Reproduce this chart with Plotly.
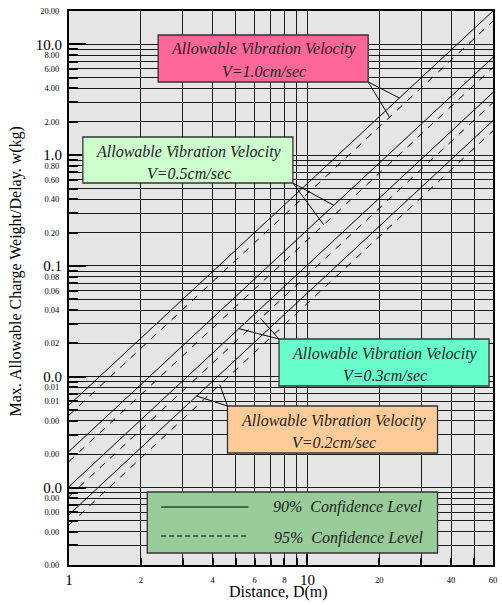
import math
import plotly.graph_objects as go

SERIF = "Liberation Serif"

# ---------------------------------------------------------------- data
# Straight lines on log-log paper: charge weight read at D = 1 m and D = 60 m
DIST_ENDS = [1, 60]
VELOCITIES = ["1.0", "0.5", "0.3", "0.2"]
W90_AT_1M = [0.00556, 0.00212, 0.00102, 0.00057]
W90_AT_60M = [20.0, 7.63, 3.68, 2.05]
W95_AT_1M = [0.0045, 0.00172, 0.00083, 0.00046]
W95_AT_60M = [16.2, 6.18, 2.98, 1.66]

# distances on each line where the callout leaders touch (90 %, 95 %)
LEADER_D90 = [24.3, 12.9, 5.16, 3.43]
LEADER_D95 = [22.1, 11.7, 6.36, 4.29]

# axis ticks
X_TICKS = [2, 4, 6, 8, 20, 40, 60]
X_LABELS = ["2", "4", "6", "8", "20", "40", "60"]
X_DECADES = [1, 10]
X_DECADE_LABELS = ["1", "10"]
X_GRID = [1, 3, 5, 7, 9, 10, 30, 50]

Y_TICKS = [20, 8, 6, 4, 2, 0.8, 0.6, 0.4, 0.2, 0.08, 0.06, 0.04, 0.02,
           0.008, 0.006, 0.004, 0.002, 0.0008, 0.0006, 0.0004, 0.0002]
Y_LABELS = ["20.00", "8.00", "6.00", "4.00", "2.00", "0.80", "0.60", "0.40",
            "0.20", "0.08", "0.06", "0.04", "0.02", "0.01", "0.01", "0.00",
            "0.00", "0.00", "0.00", "0.00", "0.00"]
Y_DECADES = [10, 1, 0.1, 0.01, 0.001]
Y_DECADE_LABELS = ["10.0", "1.0", "0.1", "0.0", "0.0"]
Y_GRID = [m * 10.0 ** k for k in range(-4, 2) for m in (1, 3, 5, 7, 9)]

X_RANGE = [0.0, math.log10(60)]
Y_RANGE = [math.log10(0.0002), math.log10(20)]

# ---------------------------------------------------------------- layout geometry
PLOT_L, PLOT_T, PLOT_W, PLOT_H = 69, 11, 428, 554


def px_x(px):
    return (px - PLOT_L) / PLOT_W


def px_y(py):
    return (PLOT_T + PLOT_H - py) / PLOT_H


def data_x(d):
    return (math.log10(d) - X_RANGE[0]) / (X_RANGE[1] - X_RANGE[0])


def data_y(w):
    return (math.log10(w) - Y_RANGE[0]) / (Y_RANGE[1] - Y_RANGE[0])


def w_on_line(d, w_a, w_b):
    la, lb = math.log10(w_a), math.log10(w_b)
    t = (math.log10(d) - math.log10(DIST_ENDS[0])) / (
        math.log10(DIST_ENDS[1]) - math.log10(DIST_ENDS[0]))
    return 10 ** (la + (lb - la) * t)


# callout boxes: left, top, right, bottom (px), fill, leader corner
BOXES = [
    (159, 35, 371, 82, "#ff6699", "br"),
    (83, 137, 295, 183, "#ccffcc", "br"),
    (281, 339, 493, 386, "#66ffcc", "tl"),
    (229, 406, 441, 453, "#ffcc99", "tl"),
]

fig = go.Figure()

for i, v in enumerate(VELOCITIES):
    fig.add_trace(go.Scatter(
        x=DIST_ENDS, y=[W90_AT_1M[i], W90_AT_60M[i]], mode="lines",
        line=dict(color="black", width=1), name=f"V={v} (90%)",
        hoverinfo="skip", cliponaxis=True))
    fig.add_trace(go.Scatter(
        x=DIST_ENDS, y=[W95_AT_1M[i], W95_AT_60M[i]], mode="lines",
        line=dict(color="black", width=1, dash="7px,7px"),
        name=f"V={v} (95%)", xaxis="x2", yaxis="y2",
        hoverinfo="skip", cliponaxis=True))

shapes = []
annotations = []
box_font = dict(family=SERIF, size=16, color="#222222")

for i, (l, t, r, b, fill, corner) in enumerate(BOXES):
    cx0 = px_x(l) if corner == "tl" else px_x(r)
    cy0 = px_y(t) if corner == "tl" else px_y(b)
    for d, wa, wb in ((LEADER_D90[i], W90_AT_1M[i], W90_AT_60M[i]),
                      (LEADER_D95[i], W95_AT_1M[i], W95_AT_60M[i])):
        shapes.append(dict(
            type="line", xref="paper", yref="paper",
            x0=cx0, y0=cy0, x1=data_x(d), y1=data_y(w_on_line(d, wa, wb)),
            line=dict(color="black", width=1), layer="above"))
    shapes.append(dict(
        type="rect", xref="paper", yref="paper",
        x0=px_x(l), x1=px_x(r), y0=px_y(b), y1=px_y(t),
        fillcolor=fill, line=dict(color="#333333", width=1.3), layer="above"))
    cx = px_x((l + r) / 2 + 1)
    annotations.append(dict(
        xref="paper", yref="paper", x=cx, y=px_y(t + 14.5),
        text="<i>Allowable Vibration Velocity</i>", showarrow=False,
        font=box_font, xanchor="center", yanchor="middle"))
    annotations.append(dict(
        xref="paper", yref="paper", x=cx, y=px_y(t + 36.5),
        text=f"<i>V={VELOCITIES[i]}cm/sec</i>", showarrow=False,
        font=box_font, xanchor="center", yanchor="middle"))

# confidence-level key
shapes.append(dict(
    type="rect", xref="paper", yref="paper",
    x0=px_x(148), x1=px_x(441), y0=px_y(553), y1=px_y(492),
    fillcolor="#99cc99", line=dict(color="#333333", width=1.3), layer="above"))
shapes.append(dict(
    type="line", xref="paper", yref="paper",
    x0=px_x(162), x1=px_x(250), y0=px_y(507), y1=px_y(507),
    line=dict(color="black", width=1), layer="above"))
shapes.append(dict(
    type="line", xref="paper", yref="paper",
    x0=px_x(162), x1=px_x(250), y0=px_y(536), y1=px_y(536),
    line=dict(color="black", width=1, dash="5px,3px"), layer="above"))
annotations.append(dict(
    xref="paper", yref="paper", x=px_x(350), y=px_y(507),
    text="<i>90%&nbsp; Confidence Level</i>", showarrow=False,
    font=box_font, xanchor="center", yanchor="middle"))
annotations.append(dict(
    xref="paper", yref="paper", x=px_x(351), y=px_y(538),
    text="<i>95%&nbsp; Confidence Level</i>", showarrow=False,
    font=box_font, xanchor="center", yanchor="middle"))

# axis titles
annotations.append(dict(
    xref="paper", yref="paper", x=px_x(280), y=px_y(592),
    text="Distance, D(m)", showarrow=False,
    font=dict(family=SERIF, size=16, color="black"),
    xanchor="center", yanchor="middle"))
annotations.append(dict(
    xref="paper", yref="paper", x=px_x(15), y=px_y(272),
    text="Max. Allowable Charge Weight/Delay. w(kg)", showarrow=False,
    textangle=-90, font=dict(family=SERIF, size=16, color="black"),
    xanchor="center", yanchor="middle"))

GRID = "#1a1a1a"
small_font = dict(family=SERIF, size=8.5, color="black")
big_font = dict(family=SERIF, size=15, color="black")

fig.update_layout(
    width=502, height=605,
    margin=dict(l=PLOT_L, r=502 - PLOT_L - PLOT_W, t=PLOT_T,
                b=605 - PLOT_T - PLOT_H),
    paper_bgcolor="white", plot_bgcolor="#e5e5e5",
    showlegend=False,
    xaxis=dict(
        type="log", range=X_RANGE, tickmode="array",
        tickvals=X_TICKS, ticktext=X_LABELS, tickfont=small_font,
        ticks="inside", ticklen=7, tickwidth=1.5, tickcolor="black",
        showgrid=True, gridcolor=GRID, gridwidth=1,
        minor=dict(tickvals=X_GRID, showgrid=True, gridcolor=GRID,
                   gridwidth=1, ticks="inside", ticklen=7, tickwidth=1.5,
                   tickcolor="black"),
        showline=True, linecolor="black", linewidth=2, mirror=True,
        zeroline=False, ticklabelstandoff=6, fixedrange=True),
    yaxis=dict(
        type="log", range=Y_RANGE, tickmode="array",
        tickvals=Y_TICKS, ticktext=Y_LABELS, tickfont=small_font,
        ticks="inside", ticklen=9, tickwidth=1.5, tickcolor="black",
        showgrid=True, gridcolor=GRID, gridwidth=1,
        minor=dict(tickvals=Y_GRID, showgrid=True, gridcolor=GRID,
                   gridwidth=1, ticks="inside", ticklen=9, tickwidth=1.5,
                   tickcolor="black"),
        showline=True, linecolor="black", linewidth=2, mirror=True,
        zeroline=False, ticklabelstandoff=6, fixedrange=True),
    xaxis2=dict(
        type="log", range=X_RANGE, overlaying="x", anchor="y2",
        side="bottom", tickmode="array", tickvals=X_DECADES,
        ticktext=X_DECADE_LABELS, tickfont=big_font,
        ticks="inside", ticklen=17, tickwidth=2, tickcolor="black",
        showgrid=False, showline=False, zeroline=False,
        ticklabelstandoff=4, fixedrange=True),
    yaxis2=dict(
        type="log", range=Y_RANGE, overlaying="y", anchor="x2",
        side="left", tickmode="array", tickvals=Y_DECADES,
        ticktext=Y_DECADE_LABELS, tickfont=big_font,
        ticks="inside", ticklen=17, tickwidth=2, tickcolor="black",
        showgrid=False, showline=False, zeroline=False,
        ticklabelstandoff=6, fixedrange=True),
    shapes=shapes,
    annotations=annotations,
)

fig.write_html("out.html")
